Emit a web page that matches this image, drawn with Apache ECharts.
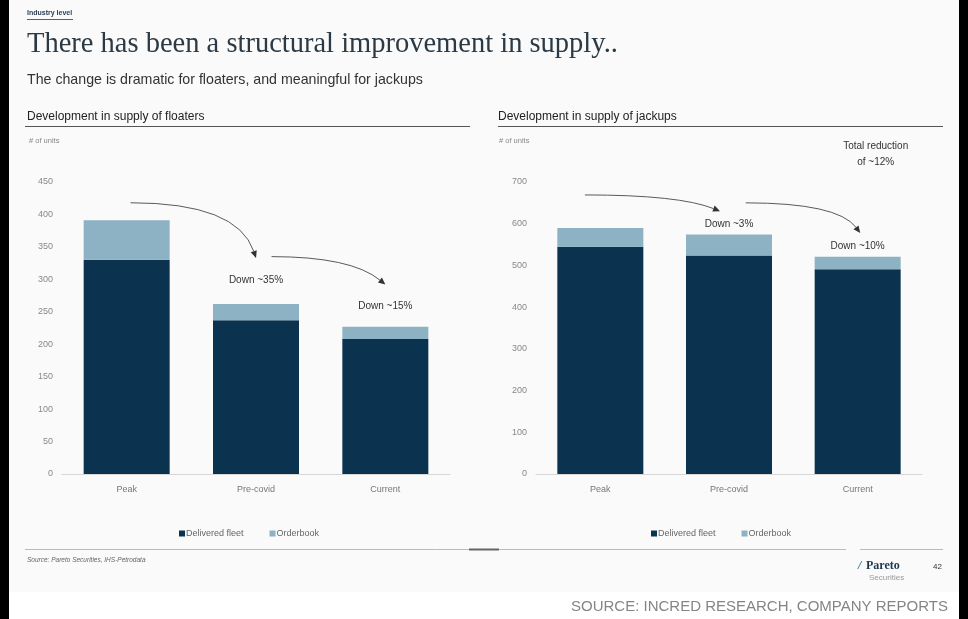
<!DOCTYPE html>
<html>
<head>
<meta charset="utf-8">
<script src="https://cdn.jsdelivr.net/npm/echarts@6/dist/echarts.min.js"></script>
<style>
  html, body { margin: 0; padding: 0; background: #ffffff; }
  #chart { width: 968px; height: 619px; }
</style>
</head>
<body>
<div id="chart"></div>
<script>
// Categories shared by both panels
const categories = ['Peak', 'Pre-covid', 'Current'];

// Floaters: number of units
const floatersDelivered = [330, 237, 208];
const floatersOrderbook = [61, 25, 19];

// Jackups: number of units
const jackupsDelivered = [545, 524, 491];
const jackupsOrderbook = [45, 50, 30];

// Value-axis ticks
const floatersTicks = { min: 0, max: 450, interval: 50 };
const jackupsTicks = { min: 0, max: 700, interval: 100 };

// Annotations anchored in data space: [category position, value]
const floatersArrows = [
  { from: [0.03, 418], to: [1.0, 333], bend: 0.85 },
  { from: [1.12, 335], to: [2.0, 292], bend: 0.7 }
];
const floatersNotes = [
  { at: [1, 299], text: 'Down ~35%' },
  { at: [2, 258], text: 'Down ~15%' }
];
const jackupsArrows = [
  { from: [-0.12, 669], to: [0.93, 630], bend: 0.7 },
  { from: [1.13, 650], to: [2.02, 578], bend: 0.8 }
];
const jackupsNotes = [
  { at: [1, 599], text: 'Down ~3%' },
  { at: [2, 547], text: 'Down ~10%' },
  { at: [2.14, 786], text: 'Total reduction' },
  { at: [2.14, 748], text: 'of ~12%' }
];

const DARK = '#0b3350';
const LIGHT = '#8db2c4';
const SANS = '"Liberation Sans", Arial, sans-serif';

const chart = echarts.init(document.getElementById('chart'), null, { renderer: 'canvas' });

function xAxisCfg(gridIndex) {
  return {
    type: 'category', gridIndex, data: categories,
    axisLine: { lineStyle: { color: '#d6d6d6', width: 1 } },
    axisTick: { show: false },
    axisLabel: { color: '#777', fontSize: 9, fontFamily: SANS, margin: 11 }
  };
}
function yAxisCfg(gridIndex, t) {
  return {
    type: 'value', gridIndex, min: t.min, max: t.max, interval: t.interval,
    axisLine: { show: false }, axisTick: { show: false },
    splitLine: { show: false },
    axisLabel: { color: '#888', fontSize: 9, fontFamily: SANS, margin: 9 }
  };
}
function barSeries(name, data, color, idx, stack) {
  return {
    type: 'bar', name, data, stack, xAxisIndex: idx, yAxisIndex: idx,
    barWidth: 86, itemStyle: { color }, emphasis: { disabled: true }
  };
}
function legendCfg(left) {
  return {
    left, top: 524, itemWidth: 6, itemHeight: 6, itemGap: 26,
    icon: 'rect',
    textStyle: { color: '#666', fontSize: 9, fontFamily: SANS, padding: [0, 0, 0, -4] },
    data: ['Delivered fleet', 'Orderbook']
  };
}

chart.setOption({
  backgroundColor: '#ffffff',
  animation: false,
  grid: [
    { left: 62, right: 518, top: 182, bottom: 145 },
    { left: 536, right: 46, top: 182, bottom: 145 }
  ],
  xAxis: [xAxisCfg(0), xAxisCfg(1)],
  yAxis: [yAxisCfg(0, floatersTicks), yAxisCfg(1, jackupsTicks)],
  legend: [legendCfg(174), legendCfg(646)],
  series: [
    barSeries('Delivered fleet', floatersDelivered, DARK, 0, 'f'),
    barSeries('Orderbook', floatersOrderbook, LIGHT, 0, 'f'),
    barSeries('Delivered fleet', jackupsDelivered, DARK, 1, 'j'),
    barSeries('Orderbook', jackupsOrderbook, LIGHT, 1, 'j')
  ]
});

// Pixel position of a (possibly fractional) category position and a value
function toPx(gi, pos, val) {
  const a = chart.convertToPixel({ xAxisIndex: gi, yAxisIndex: gi }, [0, val]);
  const b = chart.convertToPixel({ xAxisIndex: gi, yAxisIndex: gi }, [1, val]);
  return [a[0] + (b[0] - a[0]) * pos, a[1]];
}

function arrowGraphics(gi, arrows) {
  const out = [];
  arrows.forEach(ar => {
    const p0 = toPx(gi, ar.from[0], ar.from[1]);
    const p1 = toPx(gi, ar.to[0], ar.to[1]);
    const cp = [p0[0] + (p1[0] - p0[0]) * ar.bend, p0[1]];
    const dx = p1[0] - cp[0], dy = p1[1] - cp[1];
    const len = Math.hypot(dx, dy) || 1;
    const ux = dx / len, uy = dy / len;
    const hl = 7, hw = 3.2;
    const base = [p1[0] - ux * hl, p1[1] - uy * hl];
    out.push({
      type: 'bezierCurve', silent: true,
      shape: { x1: p0[0], y1: p0[1], cpx1: cp[0], cpy1: cp[1], x2: base[0], y2: base[1] },
      style: { stroke: '#5a5a5a', lineWidth: 1, fill: null }
    });
    out.push({
      type: 'polygon', silent: true,
      shape: { points: [p1, [base[0] - uy * hw, base[1] + ux * hw], [base[0] + uy * hw, base[1] - ux * hw]] },
      style: { fill: '#333' }
    });
  });
  return out;
}
function noteGraphics(gi, notes) {
  return notes.map(n => {
    const p = toPx(gi, n.at[0], n.at[1]);
    return {
      type: 'text', silent: true,
      style: { x: p[0], y: p[1], text: n.text, fill: '#333', font: '10px ' + SANS, textAlign: 'center', textVerticalAlign: 'middle' }
    };
  });
}

function txt(x, y, text, font, fill, align) {
  return { type: 'text', silent: true, style: { x, y, text, font, fill, textAlign: align || 'left', textVerticalAlign: 'middle' } };
}
function hline(x1, x2, y, stroke, w) {
  return { type: 'line', silent: true, shape: { x1, y1: y, x2, y2: y }, style: { stroke, lineWidth: w || 1 } };
}

const frame = [
  // slide background and black side bars
  { type: 'rect', silent: true, z: -10, shape: { x: 0, y: 0, width: 968, height: 592 }, style: { fill: '#fafafa' } },
  { type: 'rect', silent: true, shape: { x: 0, y: 0, width: 9, height: 619 }, style: { fill: '#000' } },
  { type: 'rect', silent: true, shape: { x: 959, y: 0, width: 9, height: 619 }, style: { fill: '#000' } },

  txt(27, 13, 'Industry level', 'bold 7px ' + SANS, '#2c3e50'),
  hline(27, 73, 19.5, '#55606a', 1),
  txt(27, 45, 'There has been a structural improvement in supply..', '28.5px "Liberation Serif", "DejaVu Serif", serif', '#2b3a45'),
  txt(27, 80, 'The change is dramatic for floaters, and meaningful for jackups', '14.2px ' + SANS, '#333'),

  txt(27, 117, 'Development in supply of floaters', '12px ' + SANS, '#222'),
  hline(25, 470, 126.5, '#555', 1),
  txt(498, 117, 'Development in supply of jackups', '12px ' + SANS, '#222'),
  hline(498, 943, 126.5, '#555', 1),
  txt(29, 141, '# of units', '7.5px ' + SANS, '#888'),
  txt(499, 141, '# of units', '7.5px ' + SANS, '#888'),

  // footer rules
  hline(25, 846, 549.5, '#bbb', 1),
  hline(469, 499, 549.5, '#666', 2),
  hline(860, 943, 549.5, '#bbb', 1),
  txt(27, 560, 'Source: Pareto Securities, IHS-Petrodata', 'italic 6.5px ' + SANS, '#666'),
  txt(858, 566, '/', 'bold italic 12px "Liberation Serif", serif', '#2a6d8f'),
  txt(866, 566, 'Pareto', 'bold 12px "Liberation Serif", serif', '#1c3550'),
  txt(869, 578, 'Securities', '8px ' + SANS, '#999'),
  txt(933, 567, '42', '8px ' + SANS, '#333'),
  txt(948, 607, 'SOURCE: INCRED RESEARCH, COMPANY REPORTS', '15px ' + SANS, '#858585', 'right')
];

chart.setOption({
  graphic: frame
    .concat(arrowGraphics(0, floatersArrows))
    .concat(noteGraphics(0, floatersNotes))
    .concat(arrowGraphics(1, jackupsArrows))
    .concat(noteGraphics(1, jackupsNotes))
});
</script>
</body>
</html>
